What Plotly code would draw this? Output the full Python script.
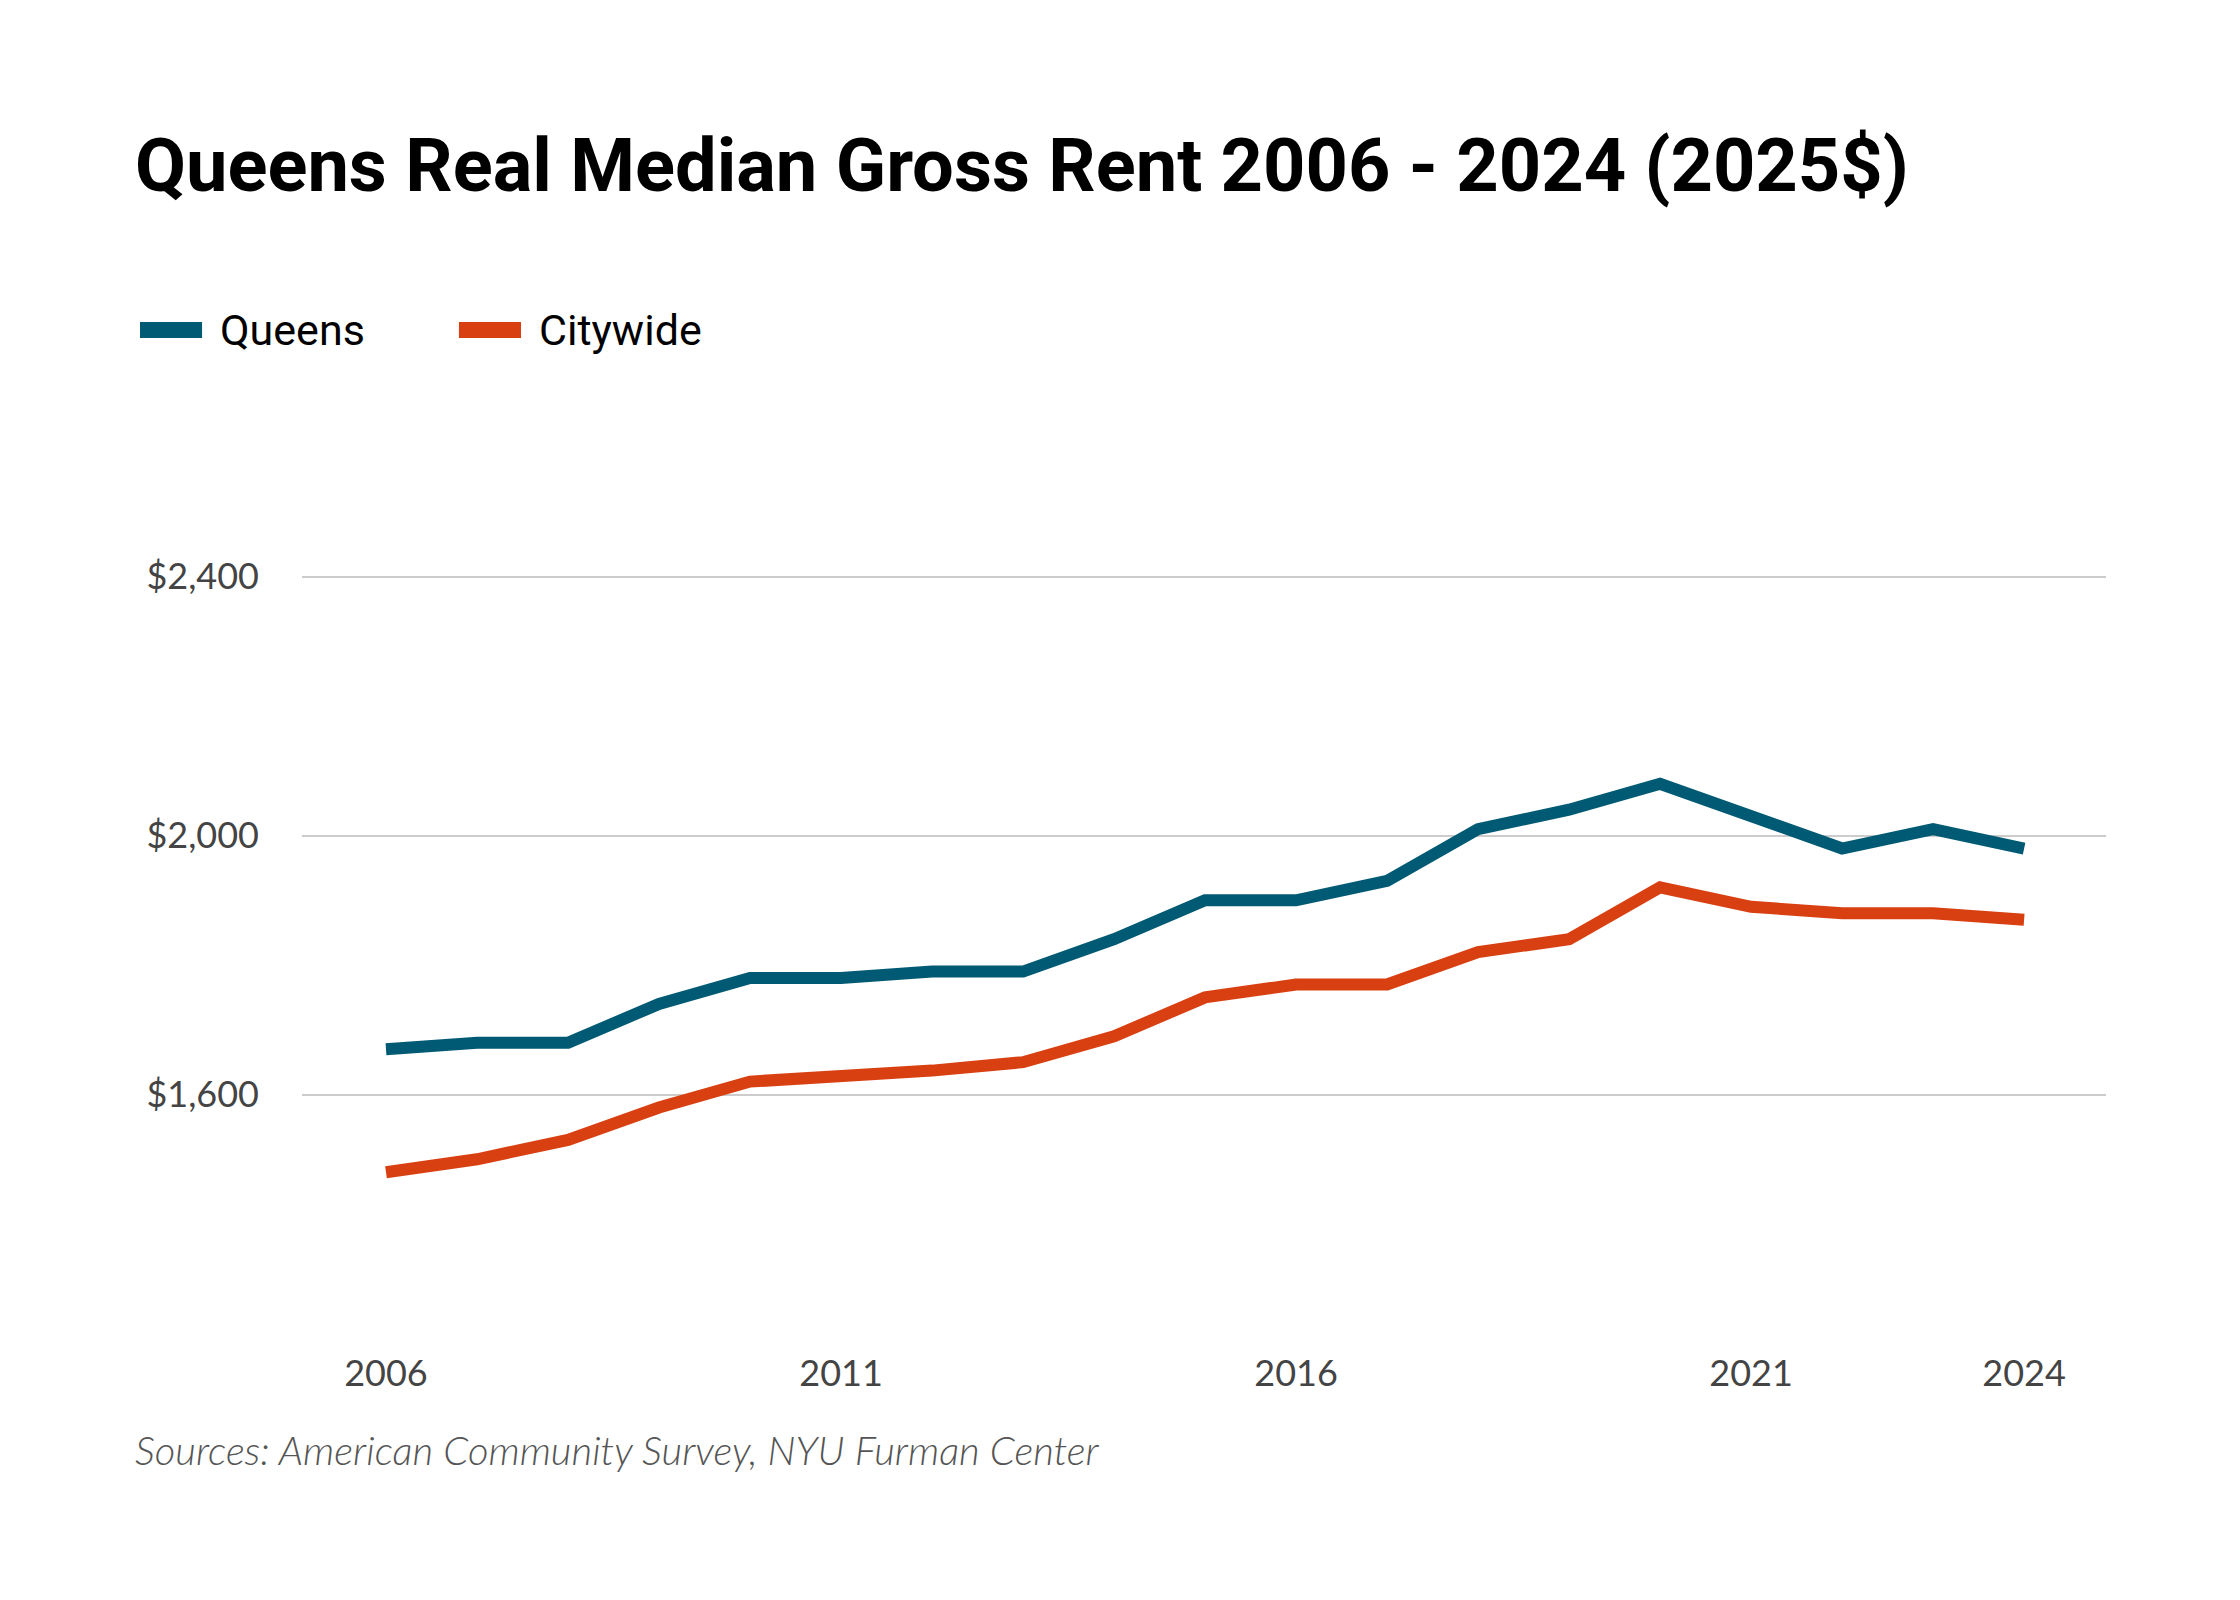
import plotly.graph_objects as go

years = list(range(2006, 2025))
queens = [1670, 1680, 1680, 1740, 1780, 1780, 1790, 1790, 1840, 1900,
          1900, 1930, 2010, 2040, 2080, 2030, 1980, 2010, 1980]
citywide = [1480, 1500, 1530, 1580, 1620, 1628, 1637, 1650, 1690, 1750,
            1770, 1770, 1820, 1840, 1920, 1890, 1880, 1880, 1870]
x_ticks = [2006, 2011, 2016, 2021, 2024]
y_ticks = [1600, 2000, 2400]
y_labels = ["$1,600", "$2,000", "$2,400"]

series = [("Queens", queens, "#005a73"), ("Citywide", citywide, "#d84012")]

fig = go.Figure()
for name, vals, col in series:
    fig.add_trace(go.Scatter(x=years, y=vals, name=name, mode="lines",
                             line=dict(color=col, width=12)))

fig.update_layout(
    width=2240, height=1600,
    paper_bgcolor="white", plot_bgcolor="white",
    margin=dict(l=294, r=142, t=566, b=259),
    showlegend=False,
    title=dict(text="<b>Queens Real Median Gross Rent 2006 - 2024 (2025$)</b>",
               font=dict(family="Roboto", size=74, color="#000000", weight=900),
               xref="container", x=127 / 2240, xanchor="left",
               yref="container", y=1 - 157 / 1600, yanchor="middle"),
    font=dict(family="Lato", color="#444444"),
)
fig.update_xaxes(range=[2005.077, 2024.90], tickvals=x_ticks, showgrid=False,
                 zeroline=False, showline=False, ticks="",
                 tickfont=dict(family="Lato", size=36, color="#444444"))
fig.update_yaxes(range=[1207, 2404], tickvals=y_ticks, ticktext=y_labels,
                 showgrid=True, gridcolor="#cccccc", gridwidth=2,
                 zeroline=False, showline=False, ticks="", ticklabelstandoff=42,
                 tickfont=dict(family="Lato", size=36, color="#444444"))

# legend drawn by hand so the swatches match the original
leg_y = 1.3148
leg_x = [-0.0898, 0.0870]
for (name, vals, col), lx in zip(series, leg_x):
    fig.add_shape(type="line", xref="paper", yref="paper",
                  x0=lx, x1=lx + 0.0344, y0=leg_y, y1=leg_y,
                  line=dict(color=col, width=16))
    fig.add_annotation(text=name, xref="paper", yref="paper",
                       x=lx + 0.043, y=leg_y, xanchor="left", yanchor="middle",
                       showarrow=False,
                       font=dict(family="Roboto", size=43, color="#000000"))

fig.add_annotation(text="<i>Sources: American Community Survey, NYU Furman Center</i>",
                   xref="paper", yref="paper", x=-0.0937, y=-0.1303,
                   xanchor="left", yanchor="middle", showarrow=False,
                   font=dict(family="Lato", size=40, color="#555555", weight=300))

fig.write_html("out.html")
